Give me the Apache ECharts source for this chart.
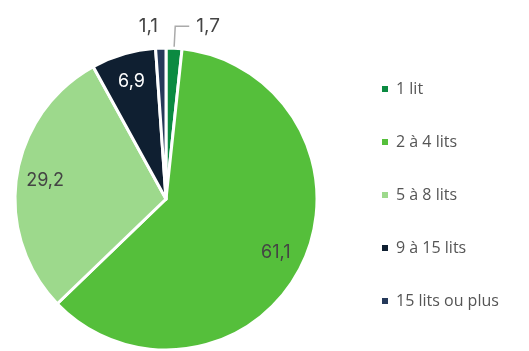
<!DOCTYPE html>
<html>
<head>
<meta charset="utf-8">
<script src="https://cdn.jsdelivr.net/npm/echarts@6/dist/echarts.min.js"></script>
<style>
  html, body { margin: 0; padding: 0; background: #fff; }
  #chart { width: 529px; height: 351px; }
</style>
</head>
<body>
<div id="chart"></div>
<script>
// Répartition par nombre de lits (%)
const categories = ['1 lit', '2 à 4 lits', '5 à 8 lits', '9 à 15 lits', '15 lits ou plus'];
const values = [1.7, 61.1, 29.2, 6.9, 1.1];
const colors = ['#0b8a41', '#55bf3b', '#9dd98c', '#0f1f31', '#25395a'];
// small slices are labelled outside the pie
const outsideLabel = [true, false, false, false, true];
const whiteLabel = [false, false, false, true, false];

const fontFamily = 'Inter, "Noto Sans", sans-serif';
const legendFont = '"Open Sans", "Noto Sans", sans-serif';
const fmt = v => String(v).replace('.', ',');

const center = [166, 199];
const R = 151;

const chart = echarts.init(document.getElementById('chart'), null, { renderer: 'canvas' });

const baseData = categories.map((name, i) => ({
  name,
  value: values[i],
  itemStyle: { color: colors[i] }
}));

chart.setOption({
  animation: false,
  legend: {
    orient: 'vertical',
    left: 375,
    top: 76,
    itemWidth: 8,
    itemHeight: 8,
    itemGap: 37,
    icon: 'rect',
    textStyle: { fontFamily: legendFont, fontSize: 16, color: '#555', padding: [0, 0, 0, 2] },
    data: categories
  },
  series: [
    {
      // main pie with the outside labels for the thin slices
      type: 'pie',
      center,
      radius: [0, R],
      startAngle: 90,
      clockwise: true,
      avoidLabelOverlap: false,
      itemStyle: { borderColor: '#fff', borderWidth: 3 },
      emphasis: { disabled: true },
      data: baseData.map((d, i) => ({
        ...d,
        label: outsideLabel[i] ? {
          show: true,
          position: 'outside',
          formatter: p => fmt(p.value),
          fontFamily, fontSize: 19, color: '#444',
          distanceToLabelLine: i === 0 ? 7 : 0
        } : { show: false },
        labelLine: outsideLabel[i] ? {
          show: i === 0,
          length: 22,
          length2: i === 0 ? 14 : 2,
          lineStyle: { color: '#aaa', width: 1.5 }
        } : { show: false }
      }))
    },
    {
      // transparent ring carrying the inner labels of the large slices
      type: 'pie',
      center,
      radius: [R * 0.58, R],
      startAngle: 90,
      clockwise: true,
      silent: true,
      legendHoverLink: false,
      emphasis: { disabled: true },
      itemStyle: { color: 'rgba(0,0,0,0)', borderWidth: 0 },
      data: baseData.map((d, i) => ({
        name: d.name,
        value: d.value,
        itemStyle: { color: 'rgba(0,0,0,0)' },
        label: outsideLabel[i] ? { show: false } : {
          show: true,
          position: 'inside',
          formatter: p => fmt(p.value),
          fontFamily, fontSize: 18,
          color: whiteLabel[i] ? '#fff' : '#444'
        }
      }))
    }
  ]
});
</script>
</body>
</html>
